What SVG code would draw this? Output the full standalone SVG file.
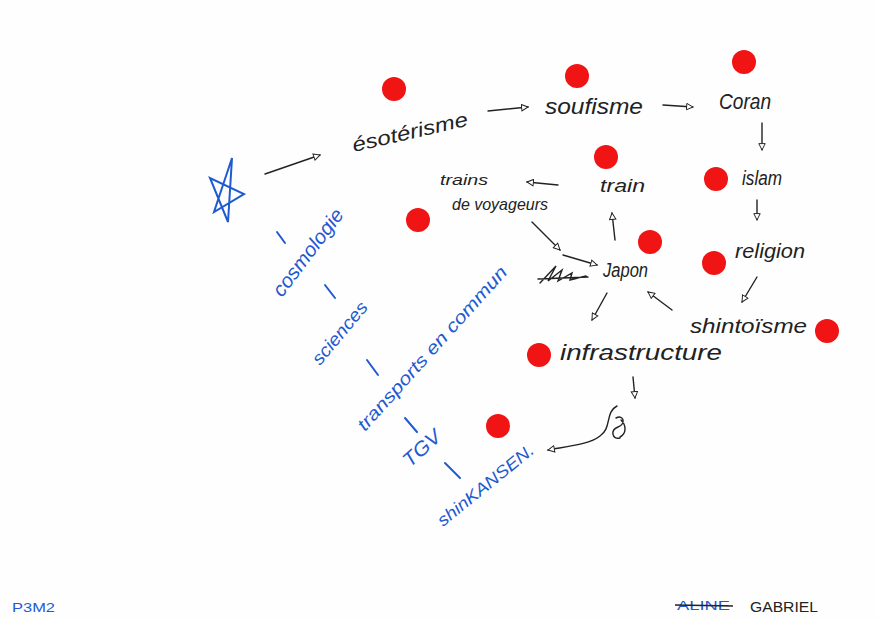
<svg xmlns="http://www.w3.org/2000/svg" width="877" height="620" viewBox="0 0 877 620">
<defs>
<style>
.k{font-family:"Liberation Sans",Arial,sans-serif;fill:#222;font-style:italic}
.b{font-family:"Liberation Sans",Arial,sans-serif;fill:#1f5ad0;font-style:italic}
.dot{fill:#f01414}
.c{fill:none;stroke:#222;stroke-width:1.4;stroke-linecap:round}
.bl{fill:none;stroke:#1f5ad0;stroke-width:2;stroke-linecap:round}
</style>
<marker id="ah" viewBox="0 0 10 10" refX="9" refY="5" markerWidth="8" markerHeight="8" orient="auto" markerUnits="userSpaceOnUse">
<path d="M1,1 L9,5 L1,9 Z" fill="#fff" stroke="#222" stroke-width="1.2"/>
</marker>
</defs>
<rect width="877" height="620" fill="#fefefe"/>

<g id="connectors">
<path class="c" d="M265,174 L320,155" marker-end="url(#ah)"/>
<path class="c" d="M488,111 L528,107" marker-end="url(#ah)"/>
<path class="c" d="M663,105 L693,107" marker-end="url(#ah)"/>
<path class="c" d="M762,123 L762,150" marker-end="url(#ah)"/>
<path class="c" d="M757,200 L757,220" marker-end="url(#ah)"/>
<path class="c" d="M757,277 L742,302" marker-end="url(#ah)"/>
<path class="c" d="M615,240 L612,213" marker-end="url(#ah)"/>
<path class="c" d="M558,185 L527,182" marker-end="url(#ah)"/>
<path class="c" d="M532,222 L560,250" marker-end="url(#ah)"/>
<path class="c" d="M563,255 L597,265" marker-end="url(#ah)"/>
<path class="c" d="M607,293 L592,320" marker-end="url(#ah)"/>
<path class="c" d="M672,310 L648,292" marker-end="url(#ah)"/>
<path class="c" d="M633,377 L635,398" marker-end="url(#ah)"/>
<path class="c" d="M617,406 C605,412 612,428 600,436 C590,444 570,446 548,450" marker-end="url(#ah)"/>
<path class="c" d="M616,418 C624,414 626,424 618,427 C610,430 612,440 620,438 M621,420 C627,426 626,434 620,437"/>
</g>

<g id="star"><path class="bl" d="M232,158 L228,222 L210,178 L244,194 L214,212 Z"/></g>

<g id="esoterisme"><circle class="dot" cx="394" cy="89" r="12"/><text class="k" font-size="20" transform="translate(354,152) rotate(-13)" textLength="118" lengthAdjust="spacingAndGlyphs">ésotérisme</text></g>
<g id="soufisme"><circle class="dot" cx="577" cy="76" r="12"/><text class="k" font-size="22" x="545" y="114" textLength="98" lengthAdjust="spacingAndGlyphs">soufisme</text></g>
<g id="coran"><circle class="dot" cx="744" cy="62" r="12"/><text class="k" font-size="22" x="719" y="109" textLength="52" lengthAdjust="spacingAndGlyphs">Coran</text></g>
<g id="islam"><circle class="dot" cx="716" cy="179" r="12"/><text class="k" font-size="20" x="742" y="185" textLength="40" lengthAdjust="spacingAndGlyphs">islam</text></g>
<g id="religion"><circle class="dot" cx="714" cy="263" r="12"/><text class="k" font-size="20" x="735" y="258" textLength="70" lengthAdjust="spacingAndGlyphs">religion</text></g>
<g id="shintoisme"><circle class="dot" cx="827" cy="331" r="12"/><text class="k" font-size="20" x="690" y="333" textLength="117" lengthAdjust="spacingAndGlyphs">shintoïsme</text></g>
<g id="train"><circle class="dot" cx="606" cy="157" r="12"/><text class="k" font-size="18" x="600" y="192" textLength="45" lengthAdjust="spacingAndGlyphs">train</text></g>
<g id="trains-voyageurs"><circle class="dot" cx="418" cy="220" r="12"/><text class="k" font-size="15" x="440" y="185" textLength="48" lengthAdjust="spacingAndGlyphs">trains</text><text class="k" font-size="17" x="452" y="210" textLength="96" lengthAdjust="spacingAndGlyphs">de voyageurs</text></g>
<g id="japon"><circle class="dot" cx="650" cy="242" r="12"/><text class="k" font-size="20" x="603" y="277" textLength="45" lengthAdjust="spacingAndGlyphs">Japon</text>
<path class="c" d="M540,283 L556,266 L548,281 L562,270 L558,281 L572,273 L570,280 L586,276 M538,279 L588,277"/></g>
<g id="infrastructure"><circle class="dot" cx="539" cy="355" r="12"/><text class="k" font-size="22" x="560" y="360" textLength="162" lengthAdjust="spacingAndGlyphs">infrastructure</text></g>
<g id="shinkansen"><circle class="dot" cx="498" cy="426" r="12"/><text class="b" font-size="17" transform="translate(443,527) rotate(-39)" textLength="119" lengthAdjust="spacingAndGlyphs">shinKANSEN.</text></g>

<g id="cosmologie"><line class="bl" x1="277" y1="232" x2="285" y2="243"/><text class="b" font-size="20" transform="translate(282,298) rotate(-53)" textLength="104" lengthAdjust="spacingAndGlyphs">cosmologie</text></g>
<g id="sciences"><line class="bl" x1="325" y1="285" x2="335" y2="298"/><text class="b" font-size="18" transform="translate(320,366) rotate(-50)" textLength="76" lengthAdjust="spacingAndGlyphs">sciences</text></g>
<g id="transports"><line class="bl" x1="367" y1="360" x2="378" y2="375"/><text class="b" font-size="18" transform="translate(365,432) rotate(-48)" textLength="214" lengthAdjust="spacingAndGlyphs">transports en commun</text></g>
<g id="tgv"><line class="bl" x1="405" y1="418" x2="417" y2="432"/><text class="b" font-size="20" transform="translate(410,468) rotate(-42)" textLength="44" lengthAdjust="spacingAndGlyphs">TGV</text><line class="bl" x1="445" y1="463" x2="460" y2="478"/></g>

<g id="footer">
<text class="b" font-size="13" x="12" y="612" textLength="43" lengthAdjust="spacingAndGlyphs" style="font-style:normal">P3M2</text>
<text class="b" font-size="13" x="677" y="610" textLength="53" lengthAdjust="spacingAndGlyphs" style="font-style:normal">ALINE</text>
<line x1="675" y1="605" x2="733" y2="606" stroke="#222" stroke-width="1.5"/>
<text class="k" font-size="15" x="750" y="612" textLength="68" lengthAdjust="spacingAndGlyphs" style="font-style:normal">GABRIEL</text>
</g>
</svg>
